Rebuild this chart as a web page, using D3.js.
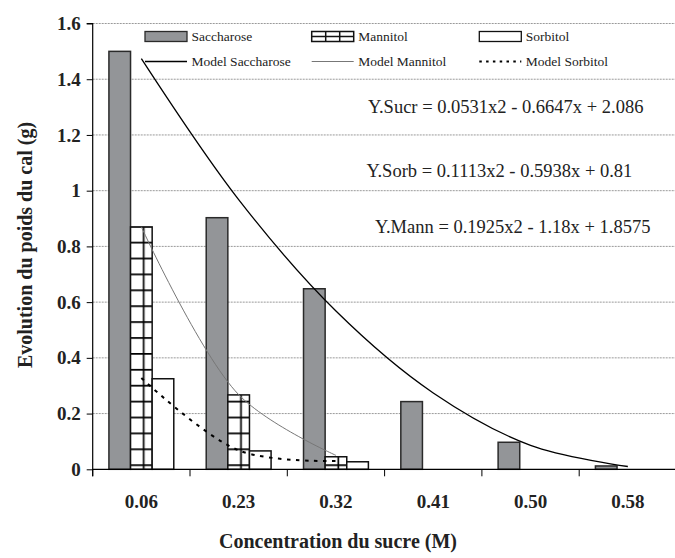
<!DOCTYPE html>
<html><head><meta charset="utf-8">
<script src="https://cdn.jsdelivr.net/npm/d3@7"></script>
<style>body{margin:0;background:#fff} svg{display:block}</style>
</head><body><svg id="c" width="675" height="558"></svg>
<script>
// ---- data ----
const categories = ["0.06","0.23","0.32","0.41","0.50","0.58"];
const seriesNames = ["Saccharose","Mannitol","Sorbitol"];
const saccharose = [1.50, 0.903, 0.648, 0.243, 0.097, 0.012];
const mannitol   = [0.87, 0.267, 0.045, 0, 0, 0];
const sorbitol   = [0.325, 0.066, 0.027, 0, 0, 0];
const modelSaccharose = [1.474, 0.968, 0.568, 0.274, 0.086, 0.010];
const modelMannitol   = [0.870, 0.268, 0.050];
const modelSorbitol   = [0.328, 0.068, 0.030];
const yTickValues = [0,0.2,0.4,0.6,0.8,1,1.2,1.4,1.6];
const yTickLabels = ["0","0.2","0.4","0.6","0.8","1","1.2","1.4","1.6"];
const equations = ["Y.Sucr = 0.0531x2 - 0.6647x + 2.086",
                   "Y.Sorb = 0.1113x2 - 0.5938x + 0.81",
                   "Y.Mann = 0.1925x2 - 1.18x + 1.8575"];
const legendLabels = ["Saccharose","Mannitol","Sorbitol","Model Saccharose","Model Mannitol","Model Sorbitol"];

// ---- layout ----
const L = 92.7, R = 676.5, T = 23.5, B = 469.3;
const serif = "'Liberation Serif','Times New Roman',serif";
const svg = d3.select("#c");

const x0 = d3.scaleBand().domain(categories).range([L, R]).paddingInner(0).paddingOuter(0);
const x1 = d3.scaleBand().domain(seriesNames).range([0, x0.bandwidth()]).paddingInner(0).paddingOuter(0.75);
const y = d3.scaleLinear().domain([0, 1.6]).range([B, T]);

const defs = svg.append("defs");
const pat = defs.append("pattern").attr("id","mannPat").attr("patternUnits","userSpaceOnUse")
  .attr("x", L).attr("y", 241.7).attr("width", x0.step()).attr("height", 15.9);
pat.append("rect").attr("width", x0.step()).attr("height", 15.9).attr("fill","#fff");
pat.append("line").attr("x1",0).attr("x2",x0.step()).attr("y1",0.8).attr("y2",0.8)
  .attr("stroke","#000").attr("stroke-width",1.7);
pat.append("line").attr("x1",51).attr("x2",51).attr("y1",0).attr("y2",15.9)
  .attr("stroke","#000").attr("stroke-width",1.7);

// gridlines
svg.append("g").selectAll("line").data(yTickValues.filter(v=>v>0)).join("line")
  .attr("x1", L).attr("x2", R).attr("y1", d=>y(d)).attr("y2", d=>y(d))
  .attr("stroke","#9a9a9a").attr("stroke-width",1).attr("stroke-dasharray","2,1");

// bars
const fills = {Saccharose:"#939598", Mannitol:"url(#mannPat)", Sorbitol:"#ffffff"};
const strokes = {Saccharose:"#2a2a2a", Mannitol:"#111", Sorbitol:"#111"};
const barData = [];
categories.forEach((c,i)=>{
  [saccharose, mannitol, sorbitol].forEach((arr,k)=>{
    if (arr[i] > 0) barData.push({c, s: seriesNames[k], v: arr[i]});
  });
});
svg.append("g").selectAll("rect").data(barData).join("rect")
  .attr("x", d=>x0(d.c)+x1(d.s)).attr("width", x1.bandwidth())
  .attr("y", d=>y(d.v)).attr("height", d=>y(0)-y(d.v))
  .attr("fill", d=>fills[d.s]).attr("stroke", d=>strokes[d.s]).attr("stroke-width",1.5);

// model lines
const cx = i => x0(categories[i]) + x0.bandwidth()/2;
const line = d3.line().x((d,i)=>cx(i)).y(d=>y(d)).curve(d3.curveCatmullRom.alpha(0.5));
svg.append("path").attr("d", line(modelSaccharose)).attr("fill","none").attr("stroke","#000").attr("stroke-width",1.3);
svg.append("path").attr("d", line(modelMannitol)).attr("fill","none").attr("stroke","#777").attr("stroke-width",1);
svg.append("path").attr("d", line(modelSorbitol)).attr("fill","none").attr("stroke","#000").attr("stroke-width",2).attr("stroke-dasharray","3.5,5.5");

// axes
const yAxis = d3.axisLeft(y).tickValues(yTickValues).tickFormat((d,i)=>yTickLabels[i]).tickSize(6).tickPadding(6);
const gy = svg.append("g").attr("transform",`translate(${L},0)`).call(yAxis);
gy.select(".domain").attr("stroke","#000").attr("stroke-width",1.2).attr("d",`M-6,${T}H0V${B+7}`);
gy.selectAll(".tick line").attr("stroke","#000").attr("stroke-width",1);
gy.selectAll(".tick text").attr("font-family",serif).attr("font-weight","bold").attr("font-size",19).attr("fill","#222");

const xTicks = d3.range(categories.length+1).map(i=>L + i*x0.step());
svg.append("line").attr("x1",L).attr("x2",R).attr("y1",B).attr("y2",B).attr("stroke","#000").attr("stroke-width",1.3);
svg.append("g").selectAll("line").data(xTicks).join("line")
  .attr("x1",d=>d).attr("x2",d=>d).attr("y1",B).attr("y2",B+7).attr("stroke","#000").attr("stroke-width",1);
svg.append("g").selectAll("text").data(categories).join("text")
  .attr("x", d=>x0(d)+x0.bandwidth()/2).attr("y", 508)
  .attr("text-anchor","middle").attr("font-family",serif).attr("font-weight","bold").attr("font-size",19).attr("fill","#222")
  .text(d=>d);

// axis titles
svg.append("text").attr("x",338).attr("y",548).attr("text-anchor","middle")
  .attr("font-family",serif).attr("font-weight","bold").attr("font-size",20).attr("fill","#222")
  .text("Concentration du sucre (M)");
svg.append("text").attr("transform","translate(32,245) rotate(-90)").attr("text-anchor","middle")
  .attr("font-family",serif).attr("font-weight","bold").attr("font-size",20).attr("fill","#222")
  .text("Evolution du poids du cal (g)");

// equations
const eqPos = [[368,112.5],[366.5,176.5],[375,232.5]];
svg.append("g").selectAll("text").data(equations).join("text")
  .attr("x",(d,i)=>eqPos[i][0]).attr("y",(d,i)=>eqPos[i][1])
  .attr("font-family",serif).attr("font-size",18.5).attr("fill","#222").text(d=>d);

// legend
const lg = svg.append("g");
const colX = [145, 311.7, 479.3];
const sw = 42;
// row 1 swatches
lg.append("rect").attr("x",colX[0]).attr("y",31.5).attr("width",sw).attr("height",10)
  .attr("fill","#939598").attr("stroke","#2a2a2a").attr("stroke-width",1.3);
lg.append("rect").attr("x",colX[1]).attr("y",31.5).attr("width",sw).attr("height",10)
  .attr("fill","#fff").attr("stroke","#111").attr("stroke-width",1.5);
lg.append("line").attr("x1",colX[1]).attr("x2",colX[1]+sw).attr("y1",36.5).attr("y2",36.5).attr("stroke","#111").attr("stroke-width",1.5);
[14,28].forEach(o=>lg.append("line").attr("x1",colX[1]+o).attr("x2",colX[1]+o).attr("y1",31.5).attr("y2",41.5).attr("stroke","#111").attr("stroke-width",1.5));
lg.append("rect").attr("x",colX[2]).attr("y",31.5).attr("width",sw).attr("height",10)
  .attr("fill","#fff").attr("stroke","#111").attr("stroke-width",1.3);
// row 2 line swatches
lg.append("line").attr("x1",colX[0]).attr("x2",colX[0]+sw).attr("y1",61.5).attr("y2",61.5).attr("stroke","#000").attr("stroke-width",1.3);
lg.append("line").attr("x1",colX[1]).attr("x2",colX[1]+sw).attr("y1",61.5).attr("y2",61.5).attr("stroke","#777").attr("stroke-width",1);
lg.append("line").attr("x1",colX[2]).attr("x2",colX[2]+sw).attr("y1",61.5).attr("y2",61.5).attr("stroke","#000").attr("stroke-width",2).attr("stroke-dasharray","2.5,4.3");
legendLabels.forEach((t,i)=>{
  lg.append("text").attr("x", colX[i%3]+sw+4.5).attr("y", i<3 ? 41 : 66)
    .attr("font-family",serif).attr("font-size",13.5).attr("fill","#222").text(t);
});
</script>
</body></html>
